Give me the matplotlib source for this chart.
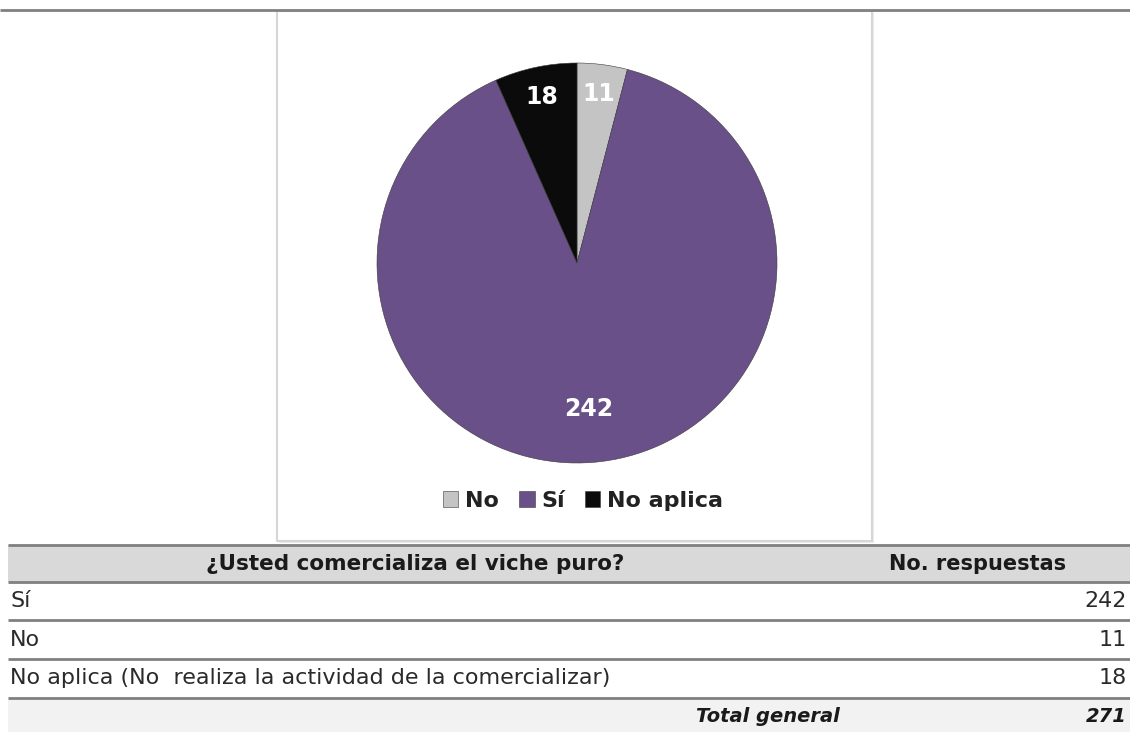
import matplotlib
matplotlib.use("Agg")
import matplotlib.pyplot as plt
from matplotlib.patches import Rectangle

# data
labels = ["No", "Sí", "No aplica"]
values = [11, 242, 18]
colors = ["#c4c4c4", "#6a5089", "#0b0b0b"]

row_labels = ["Sí", "No", "No aplica (No  realiza la actividad de la comercializar)"]
row_values = [242, 11, 18]
col_headers = ["¿Usted comercializa el viche puro?", "No. respuestas"]
total_label = "Total general"
total_value = sum(values)

W, H = 1130, 732
FONT = "DejaVu Sans"

fig = plt.figure(figsize=(W / 100, H / 100), dpi=100)

# background axes in pixel coordinates
bg = fig.add_axes([0, 0, 1, 1])
bg.set_xlim(0, W)
bg.set_ylim(H, 0)
bg.axis("off")

# top rule and chart frame
bg.plot([0, W], [10, 10], color="#808080", lw=2, solid_capstyle="butt")
bg.add_patch(Rectangle((279, 13), 595, 530, facecolor="#ececec", edgecolor="none"))
bg.add_patch(Rectangle((277, 11), 595, 530, facecolor="white", edgecolor="#d6d6d6", lw=1.5))

# table
bg.add_patch(Rectangle((8, 545), W - 8, 37, facecolor="#d9d9d9", edgecolor="none"))
bg.add_patch(Rectangle((8, 698), W - 8, 34, facecolor="#f2f2f2", edgecolor="none"))
for y in [545, 582, 620, 659, 698]:
    bg.plot([8, W], [y, y], color="#808080", lw=2, solid_capstyle="butt")

bg.text(415, 564, col_headers[0], ha="center", va="center", fontsize=15.5,
        fontweight="bold", family=FONT, color="#1a1a1a")
bg.text(978, 564, col_headers[1], ha="center", va="center", fontsize=15,
        fontweight="bold", family=FONT, color="#1a1a1a")
row_y = [601, 640, 678]
for lab, val, y in zip(row_labels, row_values, row_y):
    bg.text(10, y, lab, ha="left", va="center", fontsize=16, family=FONT, color="#2a2a2a")
    bg.text(1127, y, str(val), ha="right", va="center", fontsize=16, family=FONT, color="#2a2a2a")
bg.text(840, 716, total_label, ha="right", va="center", fontsize=14, fontweight="bold",
        style="italic", family=FONT, color="#1a1a1a")
bg.text(1127, 716, str(total_value), ha="right", va="center", fontsize=14, fontweight="bold",
        style="italic", family=FONT, color="#1a1a1a")

# pie
cx, cy, r = 577, 263, 200
pax = fig.add_axes([(cx - r) / W, (H - cy - r) / H, 2 * r / W, 2 * r / H])
wedges, texts, autotexts = pax.pie(
    values, colors=colors, startangle=90, counterclock=False,
    autopct=lambda p: "{:d}".format(int(round(p * total_value / 100))),
    pctdistance=0.8,
    wedgeprops=dict(edgecolor="#3a3a3a", linewidth=0.4),
    textprops=dict(color="white", fontsize=17, fontweight="bold", family=FONT),
)
dists = [0.85, 0.73, 0.85]
for t, d in zip(autotexts, dists):
    x, y = t.get_position()
    n = (x ** 2 + y ** 2) ** 0.5
    t.set_position((x / n * d, y / n * d))
pax.set_xlim(-1, 1)
pax.set_ylim(-1, 1)
pax.set_aspect("auto")

leg = fig.legend(wedges, labels, loc="center", bbox_to_anchor=(583 / W, 1 - 501 / H),
                 ncol=3, frameon=False, handlelength=0.7, handleheight=0.7,
                 handletextpad=0.3, columnspacing=0.9,
                 prop=dict(family=FONT, weight="bold", size=16))
for t in leg.get_texts():
    t.set_color("#222222")

fig.savefig("out.png", dpi=100)
